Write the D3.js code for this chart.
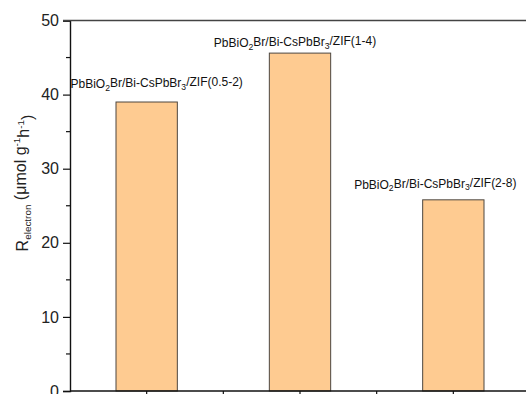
<!DOCTYPE html>
<html>
<head>
<meta charset="utf-8">
<script src="https://cdn.jsdelivr.net/npm/d3@7"></script>
<style>
  html, body { margin: 0; padding: 0; background: #fff; }
  svg { display: block; font-family: "Liberation Sans", Arial, sans-serif; }
</style>
</head>
<body>
<svg id="chart" width="526" height="394"></svg>
<script>
// Electron consumption rate for the three ZIF loadings
const categories = ["ZIF(0.5-2)", "ZIF(1-4)", "ZIF(2-8)"];
const barLabels = [
  "PbBiO2Br/Bi-CsPbBr3/ZIF(0.5-2)",
  "PbBiO2Br/Bi-CsPbBr3/ZIF(1-4)",
  "PbBiO2Br/Bi-CsPbBr3/ZIF(2-8)"
];
const rateValues = [39.0, 45.6, 25.8];
const yTicks = [0, 10, 20, 30, 40, 50];
const yMinorTicks = [5, 15, 25, 35, 45];

// label placement relative to each bar top (dx from bar centre, gap above bar)
const labelOffsets = [{dx: 10, dy: 14}, {dx: -5, dy: 6}, {dx: -18, dy: 11}];

const svg = d3.select("#chart");
const plot = {left: 70, right: 530, top: 20.5, bottom: 391};

const x = d3.scaleBand()
  .domain(categories)
  .range([plot.left, plot.right])
  .paddingInner(0.6)
  .paddingOuter(0.3);

const y = d3.scaleLinear().domain([0, 50]).range([plot.bottom, plot.top]);

// bars
svg.append("g").selectAll("rect")
  .data(rateValues)
  .join("rect")
  .attr("x", (d, i) => x(categories[i]))
  .attr("y", d => y(d))
  .attr("width", x.bandwidth())
  .attr("height", d => y(0) - y(d))
  .attr("fill", "#fecb91")
  .attr("stroke", "#4d4740")
  .attr("stroke-width", 1);

// labels above bars, with subscripts
function richLabel(sel, text) {
  const m = text.match(/^(PbBiO)(2)(Br\/Bi-CsPbBr)(3)(.*)$/);
  sel.append("tspan").text(m[1]);
  sel.append("tspan").attr("font-size", "0.72em").attr("dy", "0.3em").text(m[2]);
  sel.append("tspan").attr("dy", "-0.3em").text(m[3]);
  sel.append("tspan").attr("font-size", "0.72em").attr("dy", "0.3em").text(m[4]);
  sel.append("tspan").attr("dy", "-0.3em").text(m[5]);
}

barLabels.forEach((lab, i) => {
  const cx = x(categories[i]) + x.bandwidth() / 2 + labelOffsets[i].dx;
  const t = svg.append("text")
    .attr("x", cx)
    .attr("y", y(rateValues[i]) - labelOffsets[i].dy)
    .attr("text-anchor", "middle")
    .attr("font-size", 12)
    .attr("fill", "#111");
  richLabel(t, lab);
});

// y axis
const yAxis = d3.axisLeft(y).tickValues(yTicks).tickSize(7).tickPadding(4).tickFormat(d3.format("d"));
const gy = svg.append("g").attr("transform", `translate(${plot.left},0)`).call(yAxis);
gy.select(".domain").attr("stroke", "#111").attr("stroke-width", 1.4);
gy.selectAll(".tick line").attr("stroke", "#111").attr("stroke-width", 1.2);
gy.selectAll(".tick text").attr("font-size", 16).attr("fill", "#222")
  .attr("font-family", "Liberation Sans, Arial, sans-serif");

svg.append("g").selectAll("line")
  .data(yMinorTicks)
  .join("line")
  .attr("x1", plot.left - 4).attr("x2", plot.left)
  .attr("y1", d => y(d)).attr("y2", d => y(d))
  .attr("stroke", "#111").attr("stroke-width", 1.2);

// x axis (bottom) with ticks at centres and between categories
const xTickPos = [];
categories.forEach((c, i) => {
  xTickPos.push(x(c) + x.bandwidth() / 2);
  if (i < categories.length - 1) xTickPos.push(x(c) + x.bandwidth() / 2 + x.step() / 2);
});
svg.append("line")
  .attr("x1", plot.left).attr("x2", plot.right)
  .attr("y1", plot.bottom).attr("y2", plot.bottom)
  .attr("stroke", "#111").attr("stroke-width", 1.4);
svg.append("g").selectAll("line")
  .data(xTickPos)
  .join("line")
  .attr("x1", d => d).attr("x2", d => d)
  .attr("y1", plot.bottom).attr("y2", plot.bottom + 7)
  .attr("stroke", "#111").attr("stroke-width", 1.2);

// top frame line
svg.append("line")
  .attr("x1", plot.left - 7).attr("x2", plot.right)
  .attr("y1", plot.top).attr("y2", plot.top)
  .attr("stroke", "#444").attr("stroke-width", 1.6);

// y axis title
const title = svg.append("text")
  .attr("transform", `translate(28,183) rotate(-90)`)
  .attr("text-anchor", "middle")
  .attr("font-size", 16)
  .attr("fill", "#222");
title.append("tspan").text("R");
title.append("tspan").attr("font-size", "0.62em").attr("dy", "0.35em").text("electron");
title.append("tspan").attr("dy", "-0.35em").text(" (μmol g");
title.append("tspan").attr("font-size", "0.62em").attr("dy", "-0.55em").text("-1");
title.append("tspan").attr("dy", "0.55em").text("h");
title.append("tspan").attr("font-size", "0.62em").attr("dy", "-0.55em").text("-1");
title.append("tspan").attr("dy", "0.55em").text(")");
</script>
</body>
</html>
